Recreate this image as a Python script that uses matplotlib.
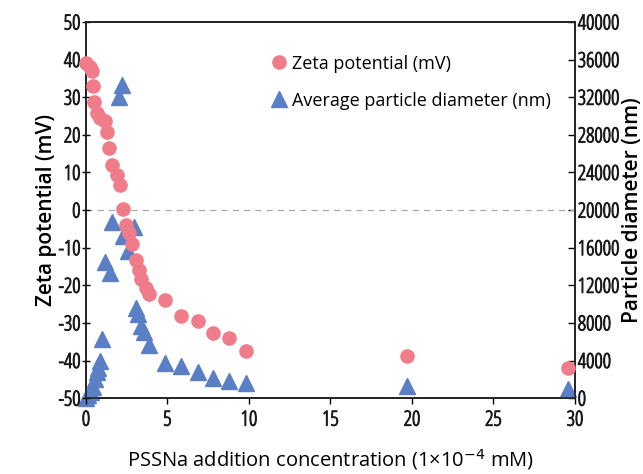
import matplotlib
matplotlib.use("Agg")
import matplotlib.pyplot as plt
import matplotlib.patheffects as pe

plt.rcParams['axes.unicode_minus'] = False
plt.rcParams['font.family'] = ['Open Sans', 'DejaVu Sans']

# Data
conc_zeta = [0.0, 0.25, 0.35, 0.45, 0.5, 0.65, 0.86, 1.17, 1.27, 1.43, 1.6, 1.88, 2.1, 2.25,
             2.45, 2.66, 2.84, 3.1, 3.25, 3.4, 3.68, 3.88, 4.85, 5.83, 6.9, 7.8, 8.8, 9.82, 19.7, 29.6]
zeta = [39.2, 38.1, 37.0, 33.0, 28.6, 25.7, 24.4, 23.7, 20.8, 16.6, 11.9, 9.3, 6.6, 0.3,
        -4.0, -6.2, -9.1, -13.3, -16.0, -18.4, -20.6, -22.2, -23.9, -28.1, -29.4, -32.6, -34.1, -37.4, -38.7, -42.0]
conc_diam = [0.0, 0.15, 0.3, 0.45, 0.55, 0.66, 0.75, 0.85, 1.0, 1.17, 1.47, 1.57, 2.0, 2.2, 2.25,
             2.6, 2.94, 3.05, 3.2, 3.37, 3.56, 3.88, 4.85, 5.83, 6.9, 7.8, 8.8, 9.82, 19.7, 29.6]
diam = [0, 300, 700, 1200, 2000, 2800, 3200, 3900, 6300, 14500, 13300, 18700, 32000, 33300, 17200,
        15700, 18200, 9600, 8900, 7700, 7050, 5600, 3750, 3400, 2800, 2100, 1850, 1600, 1300, 1000]

pink = "#F07C8A"
blue = "#5B7FC4"

fig = plt.figure(figsize=(6.43, 4.74), dpi=100)
ax = fig.add_axes([0.1337, 0.160, 0.7605, 0.7936])
ax2 = ax.twinx()

ax.axhline(0, color="#aaaaaa", ls=(0, (5, 4)), lw=0.9, zorder=1)

ax2.plot(conc_diam, diam, ls="none", marker="^", ms=11.5, color=blue, clip_on=False, zorder=3,
         label="Average particle diameter (nm)")
ax.plot(conc_zeta, zeta, ls="none", marker="o", ms=9.5, color=pink, clip_on=False, zorder=4,
        label="Zeta potential (mV)")

ax.set_xlim(0, 30)
ax.set_ylim(-50, 50)
ax2.set_ylim(0, 40000)
ax.set_xticks(range(0, 31, 5))
ax.set_yticks(range(-50, 51, 10))
ax2.set_yticks(range(0, 40001, 4000))

ax.set_zorder(ax2.get_zorder() + 1)
ax.patch.set_visible(False)

for a in (ax, ax2):
    for s in a.spines.values():
        s.set_linewidth(1.2)
        s.set_color("#222222")

ax.tick_params(axis="y", direction="inout", length=6, width=1, labelsize=15, pad=1)
ax.tick_params(axis="x", direction="out", length=4, width=1, labelsize=15, pad=5)
ax2.tick_params(axis="y", direction="in", length=5, width=1, labelsize=15, pad=2)
for lab in ax.get_xticklabels() + ax.get_yticklabels() + ax2.get_yticklabels():
    lab.set_fontstretch('condensed')
    lab.set_color("#1a1a1a")
    lab.set_path_effects([pe.withStroke(linewidth=0.7, foreground="#1a1a1a")])

ax.set_ylabel("Zeta potential (mV)", fontsize=15, fontweight="semibold", labelpad=1)
ax2.set_ylabel("Particle diameter (nm)", fontsize=15, fontweight="semibold", labelpad=2)
ax.set_xlabel("PSSNa addition concentration (1\u00d710$^{-4}$ mM)", fontsize=14.5,
              fontweight="medium", labelpad=12)

h1, l1 = ax.get_legend_handles_labels()
h2, l2 = ax2.get_legend_handles_labels()
leg = ax.legend(h1 + h2, l1 + l2, loc="upper left", bbox_to_anchor=(0.355, 0.932), frameon=False,
                prop={"size": 13},
                handletextpad=0.0, handlelength=1.4, labelspacing=1.05, borderaxespad=0)

fig.savefig("out.png", dpi=100)
